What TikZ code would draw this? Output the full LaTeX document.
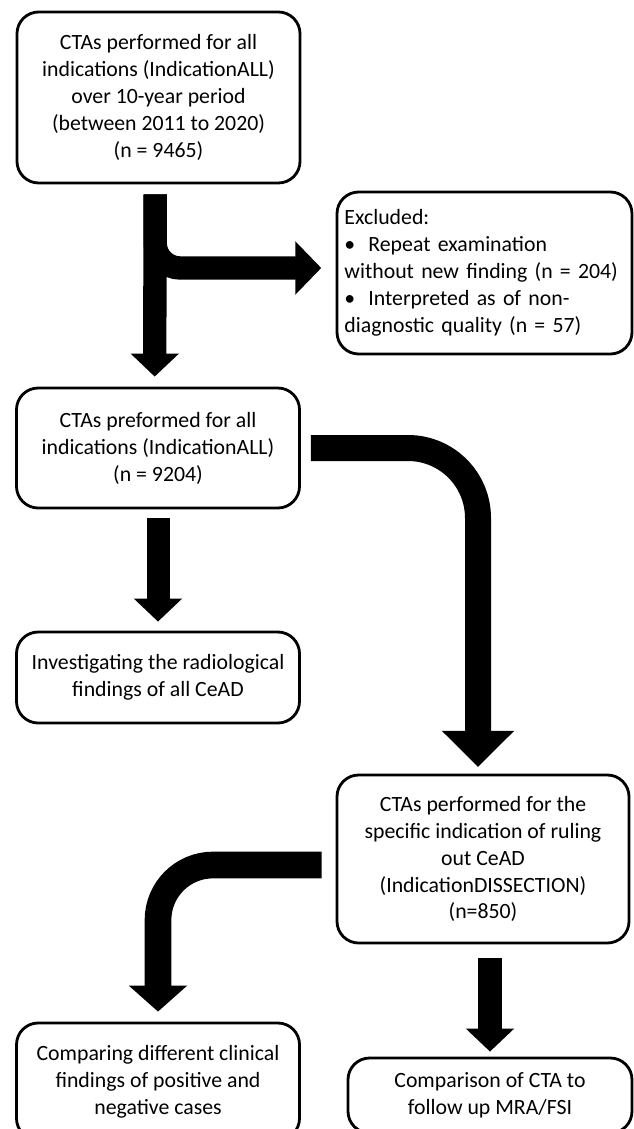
\documentclass[tikz,border=0pt]{standalone}
\usepackage{fontspec}
\setmainfont{Carlito}
\usetikzlibrary{arrows.meta}
\usetikzlibrary{positioning}
\tikzset{box/.style={draw,line width=2.4pt,rounded corners=0.65cm,align=center,
    font=\fontsize{18.6}{23}\selectfont,inner sep=0pt},
  fat/.style n args={3}{line width=#1,-{Triangle[width=#2,length=#3]}}}

\begin{document}
\begin{tikzpicture}[x=0.03cm,y=-0.03cm]
  \useasboundingbox (0,0) rectangle (633,1129);

  \node [box,minimum width=8.49cm,minimum height=5.13cm] (all) at (158.5,97.5)
    {CTAs performed for all\\ indications (IndicationALL)\\ over 10-year period\\ (between 2011 to 2020)\\ (n = 9465)};
  \node [box,minimum width=8.85cm,minimum height=4.86cm,align=left,text width=8.4cm] (excl) at (484.5,273)
    {Excluded:\\ \textbullet\hspace{0.6em}Repeat examination\\ without new finding (n = 204)\\ \textbullet\hspace{0.6em}Interpreted as of non-\\ diagnostic quality (n = 57)};
  \node [box,minimum width=8.49cm,minimum height=3.6cm] (kept) at (158,448)
    {CTAs preformed for all\\ indications (IndicationALL)\\ (n = 9204)};
  \node [box,minimum width=8.49cm,minimum height=2.73cm] (radio) at (158,677.5)
    {Investigating the radiological\\ findings of all CeAD};
  \node [box,minimum width=8.76cm,minimum height=5.04cm] (dissec) at (483,859)
    {CTAs performed for the\\ specific indication of ruling\\ out CeAD\\ (IndicationDISSECTION)\\ (n=850)};
  \node [box,minimum width=8.49cm,minimum height=3.51cm] (clinic) at (158,1081.5)
    {Comparing different clinical\\ findings of positive and\\ negative cases};
  \node [box,minimum width=8.52cm,minimum height=2.25cm] (follow) at (490,1095.5)
    {Comparison of CTA to\\ follow up MRA/FSI};

  \draw [fat={0.7cm}{1.56cm}{0.78cm},rounded corners=0.75cm] ([xshift=-1mm,yshift=-3mm]all.south) |- ([xshift=-4.3mm,yshift=1.5mm]excl.west);
  \draw [fat={0.7cm}{1.41cm}{0.69cm}] ([xshift=-1mm,yshift=-3mm]all.south) -- ([xshift=-1mm,yshift=3mm]kept.north);
  \draw [fat={0.69cm}{1.41cm}{0.69cm}] ([yshift=-2.7mm]kept.south) -- ([yshift=2.7mm]radio.north);
  \draw [fat={0.78cm}{2.1cm}{1.08cm},rounded corners=2.1cm] ([xshift=3mm]kept.east) -| ([xshift=-1.5mm,yshift=2mm]dissec.north);
  \draw [fat={0.8cm}{1.71cm}{0.78cm},rounded corners=1.65cm] ([xshift=-4.2mm,yshift=-1.8mm]dissec.west) -| ([yshift=3mm]clinic.north);
  \draw [fat={0.72cm}{1.41cm}{0.69cm}] ([yshift=-4.2mm]dissec.south -| follow.north) -- ([yshift=1.5mm]follow.north);

\end{tikzpicture}
\end{document}
